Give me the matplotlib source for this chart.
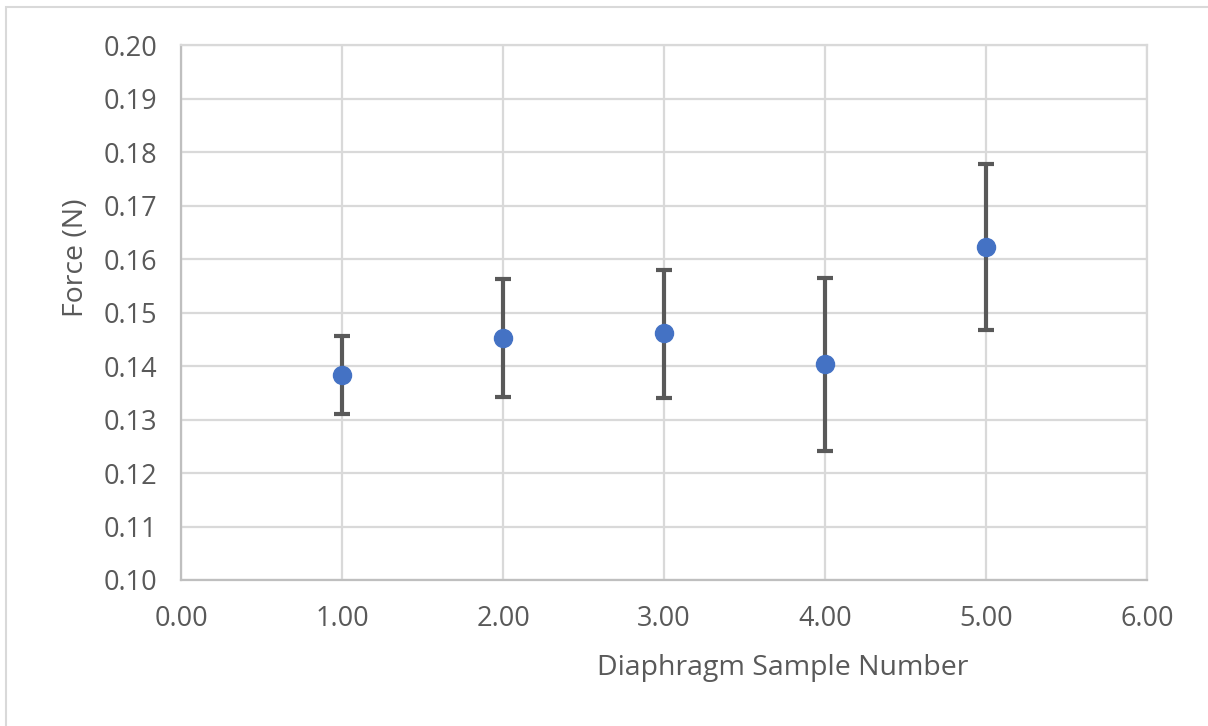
import matplotlib
matplotlib.use('Agg')
import matplotlib.pyplot as plt
from matplotlib.patches import Rectangle
import numpy as np

# data
samples = [1.0, 2.0, 3.0, 4.0, 5.0]
force = [0.1383, 0.1452, 0.1462, 0.1404, 0.1622]
err_lo = [0.0073, 0.0110, 0.0121, 0.0162, 0.0154]
err_hi = [0.0073, 0.0111, 0.0117, 0.0161, 0.0156]

x_ticks = np.arange(0, 6.01, 1.0)
y_ticks = np.arange(0.10, 0.2001, 0.01)

plt.rcParams['font.family'] = ['Open Sans', 'DejaVu Sans']
W, H = 1208, 726
fig = plt.figure(figsize=(W / 100, H / 100), dpi=100)

# chart-area border
fig.patches.append(Rectangle((6 / W, -0.05), 1.2, 1 - 7 / H + 0.05, transform=fig.transFigure,
                             fill=False, edgecolor='#D9D9D9', lw=1.5))

ax = fig.add_axes([181 / W, 1 - 580 / H, (1147 - 181) / W, (580 - 45) / H])
ax.errorbar(samples, force, yerr=[err_lo, err_hi], fmt='o', color='#4472C4', ms=13,
            ecolor='#595959', elinewidth=3, capsize=5.5, capthick=3, zorder=3)

ax.set_xlim(0, 6)
ax.set_ylim(0.10, 0.20)
ax.set_xticks(x_ticks)
ax.set_yticks(y_ticks)
ax.set_xticklabels([f"{v:.2f}" for v in x_ticks])
ax.set_yticklabels([f"{v:.2f}" for v in y_ticks])
ax.tick_params(length=0, labelsize=19.5, labelcolor='#595959')
ax.tick_params(axis='y', pad=17)
ax.tick_params(axis='x', pad=18)
ax.grid(True, color='#D9D9D9', lw=1.6)
ax.set_axisbelow(True)
for s in ax.spines.values():
    s.set_color('#D9D9D9')
    s.set_linewidth(1.6)
ax.spines['left'].set_color('#BFBFBF')
ax.spines['bottom'].set_color('#BFBFBF')

fig.text(76 / W, 1 - 258 / H, 'Force (N)', rotation=90, ha='center', va='center',
         fontsize=20.5, color='#595959')
fig.text(783 / W, 1 - 668 / H, 'Diaphragm Sample Number', ha='center', va='center',
         fontsize=20.5, color='#595959')

fig.savefig('out.png', dpi=100)
